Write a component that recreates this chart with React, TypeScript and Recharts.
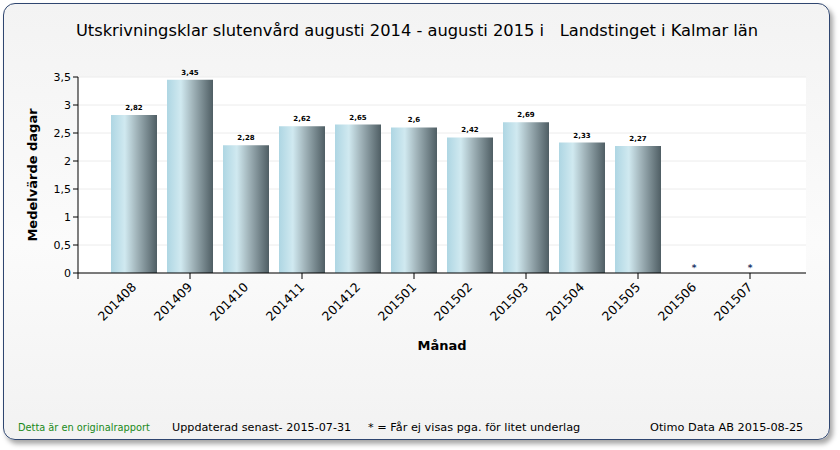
import { Bar, CartesianGrid, ComposedChart, Label, LabelList, Scatter, XAxis, YAxis } from "recharts";

const months = [
  "201408", "201409", "201410", "201411", "201412", "201501",
  "201502", "201503", "201504", "201505", "201506", "201507",
];
// null = not shown (too few cases), drawn as "*"
const values: (number | null)[] = [2.82, 3.45, 2.28, 2.62, 2.65, 2.6, 2.42, 2.69, 2.33, 2.27, null, null];
const yTicks = [0, 0.5, 1, 1.5, 2, 2.5, 3, 3.5];
const xTicks = [0, 1, 2, 3, 4, 5, 6, 7, 8, 9, 10, 11, 12];

const data = months.map((m, i) => ({
  x: i + 1,
  month: m,
  value: values[i],
  star: values[i] == null ? 0 : null,
  label: values[i] == null ? "*" : String(values[i]).replace(".", ","),
}));

const FONT = "'DejaVu Sans', Verdana, sans-serif";

const MonthTick = (props: { x?: number; y?: number; payload?: { value: number } }) => {
  const { x = 0, y = 0, payload } = props;
  if (!payload) return null;
  const v = payload.value;
  return (
    <g>
      {v % 2 === 0 && <line x1={x} y1={y - 6} x2={x} y2={y} stroke="#000" strokeWidth={1} />}
      {v >= 1 && (
        <text
          x={x + 3}
          y={y + 9}
          textAnchor="end"
          transform={`rotate(-45, ${x + 3}, ${y + 9})`}
          fontSize={12.5}
          fontFamily={FONT}
          fill="#000"
        >
          {months[v - 1]}
        </text>
      )}
    </g>
  );
};

const ValueLabel = (props: { x?: number; y?: number; width?: number; value?: string }) => {
  const { x = 0, y = 0, width = 0, value } = props;
  return (
    <text
      x={Number(x) + Number(width) / 2}
      y={Number(y) - 5}
      textAnchor="middle"
      fontSize={7}
      fontWeight="bold"
      fontFamily={FONT}
      fill="#000"
    >
      {value}
    </text>
  );
};

const StarShape = (props: { cx?: number; cy?: number; payload?: { star: number | null } }) => {
  const { cx, cy, payload } = props;
  if (!payload || payload.star == null || cx == null || cy == null || !Number.isFinite(cy)) return <g />;
  return (
    <text x={cx} y={cy - 2} textAnchor="middle" fontSize={9} fontWeight="bold" fontFamily={FONT} fill="#223366">
      *
    </text>
  );
};

export default function App() {
  return (
    <div style={{ position: "absolute", left: 0, top: 0, width: 840, height: 450, background: "#fff", fontFamily: FONT }}>
      <div
        style={{
          position: "absolute",
          left: 3,
          top: 3,
          width: 825,
          height: 435,
          border: "1.5px solid #2f4670",
          borderRadius: 12,
          background: "linear-gradient(to bottom, #f3f3f3 0%, #fbfbfb 55%, #f2f2f2 100%)",
          boxShadow: "3px 4px 5px rgba(0,0,0,0.35)",
        }}
      />
      <div
        style={{
          position: "absolute",
          left: 0,
          width: 834,
          top: 21,
          textAlign: "center",
          fontSize: 16.3,
          color: "#000",
          whiteSpace: "pre",
        }}
      >
        {"Utskrivningsklar slutenvård augusti 2014 - augusti 2015 i   Landstinget i Kalmar län"}
      </div>

      <div style={{ position: "absolute", left: 0, top: 0 }}>
        <ComposedChart width={840} height={450} data={data} margin={{ top: 77, right: 34, bottom: 97, left: 18 }}>
          <defs>
            <linearGradient id="barGrad" x1="0" y1="0" x2="1" y2="0">
              <stop offset="0%" stopColor="#aed6e3" />
              <stop offset="30%" stopColor="#d0e9f0" />
              <stop offset="55%" stopColor="#a3b6bc" />
              <stop offset="100%" stopColor="#4f5e64" />
            </linearGradient>
          </defs>
          <CartesianGrid vertical={false} stroke="#ececec" fill="#fff" />
          <XAxis
            type="number"
            dataKey="x"
            domain={[0, 13]}
            ticks={xTicks}
            interval={0}
            height={80}
            stroke="#000"
            tickLine={false}
            tick={<MonthTick />}
            tickSize={6}
            tickMargin={0}
          >
            <Label value="Månad" position="insideBottom" offset={3} fontSize={13} fontWeight="bold" fill="#000" fontFamily={FONT} />
          </XAxis>
          <YAxis
            domain={[0, 3.5]}
            ticks={yTicks}
            interval={0}
            width={60}
            stroke="#000"
            tickSize={5}
            tick={{ fontSize: 11, fill: "#000", fontFamily: FONT }}
            tickFormatter={(v: number) => String(v).replace(".", ",")}
          >
            <Label
              value="Medelvärde dagar"
              angle={-90}
              position="insideLeft"
              offset={14}
              style={{ textAnchor: "middle" }}
              fontSize={13}
              fontWeight="bold"
              fill="#000"
              fontFamily={FONT}
            />
          </YAxis>
          <Bar dataKey="value" fill="url(#barGrad)" barSize={46} isAnimationActive={false}>
            <LabelList dataKey="label" content={<ValueLabel />} />
          </Bar>
          <Scatter dataKey="star" shape={<StarShape />} isAnimationActive={false} />
        </ComposedChart>
      </div>

      <div style={{ position: "absolute", top: 422, left: 18, fontSize: 9.8, color: "#1a8a1a" }}>Detta är en originalrapport</div>
      <div style={{ position: "absolute", top: 421, left: 172, fontSize: 11.2, color: "#000" }}>Uppdaterad senast- 2015-07-31</div>
      <div style={{ position: "absolute", top: 421, left: 368, fontSize: 11.3, color: "#000" }}>* = Får ej visas pga. för litet underlag</div>
      <div style={{ position: "absolute", top: 421, left: 650, fontSize: 11.3, color: "#000" }}>Otimo Data AB 2015-08-25</div>
    </div>
  );
}
